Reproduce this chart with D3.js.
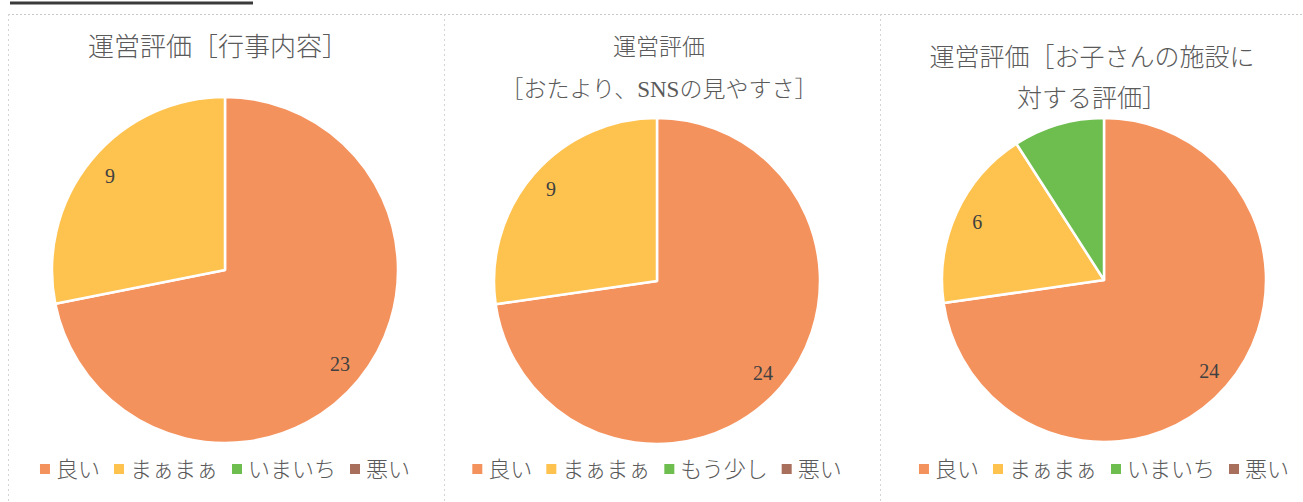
<!DOCTYPE html>
<html><head><meta charset="utf-8">
<script src="https://cdn.jsdelivr.net/npm/d3@7"></script>
<style>
html,body{margin:0;padding:0;background:#fff;}
svg{display:block;}
</style></head>
<body>
<svg id="c" width="1303" height="502"></svg>
<script>
// ---- data ----
const categoriesA = ["良い", "まぁまぁ", "いまいち", "悪い"];
const categoriesB = ["良い", "まぁまぁ", "もう少し", "悪い"];
const values1 = [23, 9, 0, 0];
const values2 = [24, 9, 0, 0];
const values3 = [24, 6, 3, 0];
const showLabel1 = [true, true, false, false];
const showLabel2 = [true, true, false, false];
const showLabel3 = [true, true, false, false];
const title1 = ["運営評価［行事内容］"];
const title2 = ["運営評価", "［おたより、SNSの見やすさ］"];
const title3 = ["運営評価［お子さんの施設に", "対する評価］"];
const colors = ["#F4925E", "#FEC24F", "#6DBD4F", "#A86F5C"];

const charts = [
  {cats: categoriesA, vals: values1, show: showLabel1, title: title1, cx: 225, cy: 270, r: 173, titleX: 218, titleY: [47], titleSize: 26},
  {cats: categoriesB, vals: values2, show: showLabel2, title: title2, cx: 657, cy: 281, r: 163, titleX: 659, titleY: [47, 89], titleSize: 23},
  {cats: categoriesA, vals: values3, show: showLabel3, title: title3, cx: 1104, cy: 280, r: 162, titleX: 1092, titleY: [57, 98], titleSize: 25}
];

const svg = d3.select("#c");

// top decoration line
svg.append("line").attr("x1", 10).attr("x2", 253).attr("y1", 3).attr("y2", 3)
  .attr("stroke", "#3a3a3a").attr("stroke-width", 3);
// panel borders (dotted)
svg.append("line").attr("x1", 8).attr("x2", 1303).attr("y1", 14.5).attr("y2", 14.5)
  .attr("stroke", "#c8c8c8").attr("stroke-width", 1).attr("stroke-dasharray", "2,2");
[8, 444, 880].forEach(x => {
  svg.append("line").attr("x1", x + 0.5).attr("x2", x + 0.5).attr("y1", 14).attr("y2", 502)
    .attr("stroke", "#d4d4d4").attr("stroke-width", 1).attr("stroke-dasharray", "2,3");
});

const fontTitle = "'Liberation Serif', 'Noto Sans CJK JP', serif";

charts.forEach(ch => {
  const g = svg.append("g");
  const color = d3.scaleOrdinal().domain(ch.cats).range(colors);
  const data = ch.cats.map((c, i) => ({cat: c, value: ch.vals[i], show: ch.show[i]}));
  const pie = d3.pie().value(d => d.value).sort(null);
  const arcs = pie(data);
  const arc = d3.arc().innerRadius(0).outerRadius(ch.r);
  const labelArc = d3.arc().innerRadius(ch.r * 0.86).outerRadius(ch.r * 0.86);

  const pg = g.append("g").attr("transform", `translate(${ch.cx},${ch.cy})`);
  pg.selectAll("path").data(arcs.filter(a => a.data.value > 0)).join("path")
    .attr("d", arc).attr("fill", d => color(d.data.cat))
    .attr("stroke", "#fff").attr("stroke-width", 2.5).attr("stroke-linejoin", "round");
  pg.selectAll("text").data(arcs.filter(a => a.data.value > 0 && a.data.show)).join("text")
    .attr("transform", d => `translate(${labelArc.centroid(d)})`)
    .attr("text-anchor", "middle").attr("dominant-baseline", "central")
    .attr("font-family", fontTitle).attr("font-size", 20).attr("fill", "#404040")
    .text(d => d.data.value);

  // title
  ch.title.forEach((t, i) => {
    g.append("text").attr("x", ch.titleX).attr("y", ch.titleY[i])
      .attr("text-anchor", "middle").attr("dominant-baseline", "central")
      .attr("font-family", fontTitle).attr("font-size", ch.titleSize).attr("font-weight", 300)
      .attr("fill", "#5a5a5a").text(t);
  });

  // legend
  const lg = g.append("g");
  let x = 0;
  ch.cats.forEach((c, i) => {
    lg.append("rect").attr("x", x).attr("y", -5).attr("width", 10).attr("height", 10).attr("fill", color(c));
    const t = lg.append("text").attr("x", x + 16).attr("y", 0).attr("dominant-baseline", "central")
      .attr("font-family", fontTitle).attr("font-size", 22).attr("font-weight", 300)
      .attr("fill", "#5a5a5a").text(c);
    x += 16 + t.node().getComputedTextLength() + 14;
  });
  x -= 14;
  lg.attr("transform", `translate(${ch.cx - x / 2},469)`);
});
</script>
</body></html>
